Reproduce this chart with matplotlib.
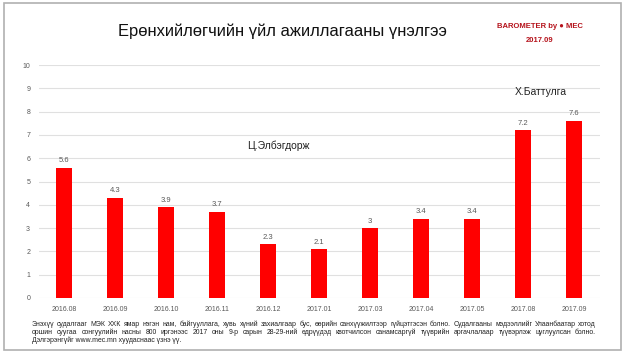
import matplotlib
matplotlib.use("Agg")
import matplotlib.pyplot as plt
from matplotlib.patches import Rectangle

# data
months = ["2016.08", "2016.09", "2016.10", "2016.11", "2016.12", "2017.01",
          "2017.03", "2017.04", "2017.05", "2017.08", "2017.09"]
scores = [5.6, 4.3, 3.9, 3.7, 2.3, 2.1, 3, 3.4, 3.4, 7.2, 7.6]
yticks = list(range(0, 11))

title = "Ерөнхийлөгчийн үйл ажиллагааны үнэлгээ"
note_lines = [
    "Энэхүү судалгааг МЭК ХХК ямар нэгэн нам, байгууллага, хувь хүний захиалгаар бус, өөрийн санхүүжилтээр гүйцэтгэсэн болно. Судалгааны мэдээллийг Улаанбаатар хотод",
    "оршин суугаа сонгуулийн насны 800 иргэнээс 2017 оны 9-р сарын 28-29-ний өдрүүдэд квотчилсон санамсаргүй түүврийн аргачлалаар түүвэрлэж цуглуулсан болно.",
    "Дэлгэрэнгүйг www.mec.mn хуудаснаас үзнэ үү.",
]

plt.rcParams["font.family"] = ["Liberation Sans", "DejaVu Sans"]

W, H = 627, 353
fig = plt.figure(figsize=(W / 100, H / 100), dpi=100)
fig.patch.set_facecolor("white")

# frame around the whole picture
fig.add_artist(Rectangle((4 / W, 3 / H), (W - 10) / W, (H - 6) / H,
                         transform=fig.transFigure, fill=False,
                         edgecolor="#b0b0b0", linewidth=1.2))

ax = fig.add_axes([38.5 / W, 55 / H, 561 / W, 233 / H])
x = range(len(months))
bars = ax.bar(x, scores, width=0.3, color="#ff0000", zorder=3)
for xi, v in zip(x, scores):
    ax.text(xi, v + 0.15, f"{v:g}", ha="center", va="bottom",
            fontsize=5.5, color="#595959")

ax.set_xlim(-0.5, len(months) - 0.5)
ax.set_ylim(0, 10)
ax.set_yticks(yticks)
ax.set_xticks(list(x))
ax.set_xticklabels(months)
ax.tick_params(axis="both", length=0, labelsize=5, colors="#595959")
ax.tick_params(axis="y", pad=6)
ax.tick_params(axis="x", pad=6)
ax.grid(axis="y", color="#e0e0e0", linewidth=0.8, zorder=0)
for s in ax.spines.values():
    s.set_visible(False)

ax.text(4.2, 6.55, "Ц.Элбэгдорж", ha="center", va="center", fontsize=7.5, color="#222222")
ax.text(9.35, 8.85, "Х.Баттулга", ha="center", va="center", fontsize=7.5, color="#222222")

fig.text(282.5 / W, 1 - 31 / H, title, ha="center", va="center", fontsize=11.9,
         color="#111111")
fig.text(540 / W, 1 - 26 / H, "BAROMETER by \u25cf MEC", ha="center", va="center",
         fontsize=5.5, fontweight="bold", color="#b5121b")
fig.text(540 / W, 1 - 41 / H, "2017.09", ha="center", va="center",
         fontsize=5.5, fontweight="bold", color="#b5121b")

# footnote, justified like the original (last line left aligned)
fs = 4.95
renderer = fig.canvas.get_renderer()
x0, x1 = 32.0, 596.0
line_y = [324, 332, 340]
for i, (line, yy) in enumerate(zip(note_lines, line_y)):
    if i == len(note_lines) - 1:
        fig.text(x0 / W, 1 - yy / H, line, ha="left", va="center", fontsize=fs,
                 color="#222222")
        continue
    words = line.split(" ")
    full = fig.text(0, 0, line, fontsize=fs)
    full_w = full.get_window_extent(renderer).width
    full.remove()
    texts = [fig.text(0, 1 - yy / H, w, ha="left", va="center", fontsize=fs,
                      color="#222222") for w in words]
    widths = [t.get_window_extent(renderer).width for t in texts]
    natural = (full_w - sum(widths)) / (len(words) - 1)
    gap = natural + (x1 - x0 - full_w) / (len(words) - 1)
    pos = x0
    for t, w in zip(texts, widths):
        t.set_x(pos / W)
        pos += w + gap

fig.savefig("out.png", dpi=100)
